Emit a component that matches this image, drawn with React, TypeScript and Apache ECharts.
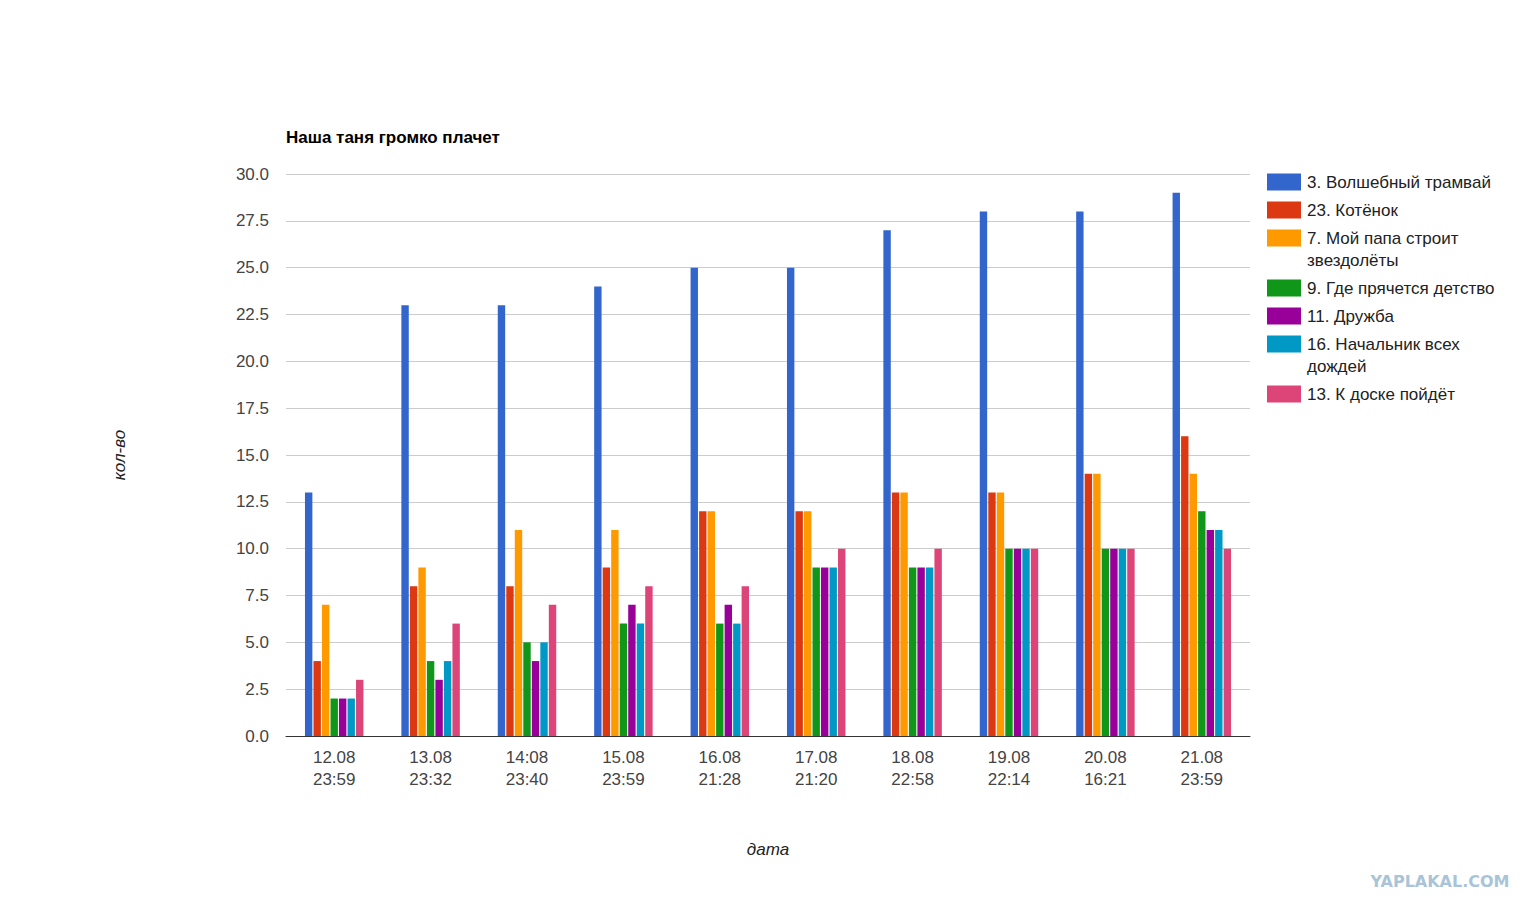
import React, { useEffect, useRef } from "react";
import * as echarts from "echarts";

const categories = [
  "12.08\n23:59",
  "13.08\n23:32",
  "14:08\n23:40",
  "15.08\n23:59",
  "16.08\n21:28",
  "17.08\n21:20",
  "18.08\n22:58",
  "19.08\n22:14",
  "20.08\n16:21",
  "21.08\n23:59",
];

const legendLabels = [
  "3. Волшебный трамвай",
  "23. Котёнок",
  "7. Мой папа строит\nзвездолёты",
  "9. Где прячется детство",
  "11. Дружба",
  "16. Начальник всех\nдождей",
  "13. К доске пойдёт",
];

const colors = ["#3366cc", "#dc3912", "#ff9900", "#109618", "#990099", "#0099c6", "#dd4477"];

const tramvai = [13, 23, 23, 24, 25, 25, 27, 28, 28, 29];
const kotenok = [4, 8, 8, 9, 12, 12, 13, 13, 14, 16];
const papa = [7, 9, 11, 11, 12, 12, 13, 13, 14, 14];
const detstvo = [2, 4, 5, 6, 6, 9, 9, 10, 10, 12];
const druzhba = [2, 3, 4, 7, 7, 9, 9, 10, 10, 11];
const nachalnik = [2, 4, 5, 6, 6, 9, 9, 10, 10, 11];
const doska = [3, 6, 7, 8, 8, 10, 10, 10, 10, 10];

const seriesValues = [tramvai, kotenok, papa, detstvo, druzhba, nachalnik, doska];

const yTicks = { min: 0, max: 30, interval: 2.5 };

const FONT = "Arial, 'Liberation Sans', sans-serif";

export default function App() {
  const ref = useRef<HTMLDivElement>(null);

  useEffect(() => {
    if (!ref.current) return;
    const chart = echarts.init(ref.current, undefined, { renderer: "svg" });

    const legendGraphics: any[] = [];
    let y = 182;
    legendLabels.forEach((label, i) => {
      const lines = label.split("\n").length;
      legendGraphics.push({
        type: "rect",
        shape: { x: 1267, y: y - 8.5, width: 34, height: 17 },
        style: { fill: colors[i] },
      });
      legendGraphics.push({
        type: "text",
        x: 1307,
        y: y - 11,
        style: {
          text: label,
          fill: "#222",
          font: `17px ${FONT}`,
          lineHeight: 22,
          verticalAlign: "top",
          align: "left",
        },
      });
      y += 28 + (lines - 1) * 22;
    });

    legendGraphics.push({
      type: "text",
      x: 1440,
      y: 881,
      style: {
        text: "YAPLAKAL.COM",
        fill: "#a9c4d8",
        font: `bold 16px 'DejaVu Sans', sans-serif`,
        align: "center",
        verticalAlign: "middle",
      },
    });

    chart.setOption({
      animation: false,
      backgroundColor: "#ffffff",
      color: colors,
      title: {
        text: "Наша таня громко плачет",
        left: 286,
        top: 129,
        padding: 0,
        textStyle: { fontFamily: FONT, fontSize: 17, fontWeight: "bold", color: "#000" },
      },
      legend: { show: false },
      grid: { left: 286, right: 285, top: 174, bottom: 175, containLabel: false },
      xAxis: {
        type: "category",
        data: categories,
        name: "дата",
        nameLocation: "middle",
        nameGap: 105,
        nameTextStyle: { fontFamily: FONT, fontSize: 17, fontStyle: "italic", color: "#222" },
        axisLine: { lineStyle: { color: "#333", width: 1 } },
        axisTick: { show: false },
        axisLabel: {
          fontFamily: FONT,
          fontSize: 17,
          color: "#444",
          lineHeight: 22,
          margin: 10,
          interval: 0,
        },
      },
      yAxis: {
        type: "value",
        min: yTicks.min,
        max: yTicks.max,
        interval: yTicks.interval,
        name: "кол-во",
        nameLocation: "middle",
        nameRotate: 90,
        nameGap: 158,
        nameTextStyle: { fontFamily: FONT, fontSize: 17, fontStyle: "italic", color: "#222" },
        axisLine: { show: false },
        axisTick: { show: false },
        splitLine: { lineStyle: { color: "#cccccc", width: 1 } },
        axisLabel: {
          fontFamily: FONT,
          fontSize: 17,
          color: "#444",
          margin: 17,
          formatter: (v: number) => v.toFixed(1),
        },
      },
      series: seriesValues.map((vals, i) => ({
        type: "bar",
        name: legendLabels[i].replace("\n", " "),
        data: vals,
        barWidth: 7.4,
        barGap: "15%",
        itemStyle: { color: colors[i] },
      })),
      graphic: legendGraphics,
    });

    return () => chart.dispose();
  }, []);

  return (
    <div
      ref={ref}
      style={{ position: "absolute", left: 0, top: 0, width: 1535, height: 911, background: "#fff" }}
    />
  );
}
